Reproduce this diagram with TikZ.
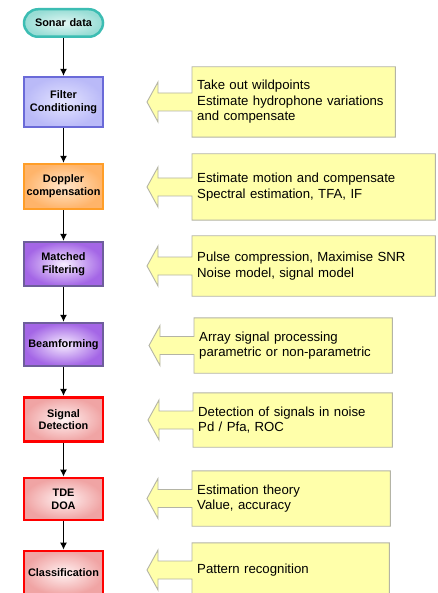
\documentclass[tikz,border=0pt]{standalone}
\usepackage{fontspec}
\setmainfont{Liberation Sans}
\usetikzlibrary{arrows.meta,calc,backgrounds}

\definecolor{tealline}{HTML}{3CBDB3}
\definecolor{tealin}{HTML}{E2F7F4}
\definecolor{tealout}{HTML}{98DDD5}
\definecolor{blueline}{HTML}{6A6AD8}
\definecolor{bluein}{HTML}{E4E4FF}
\definecolor{blueout}{HTML}{BABAF8}
\definecolor{orangeline}{HTML}{FF9E28}
\definecolor{orangein}{HTML}{FFE6CC}
\definecolor{orangeout}{HTML}{FFB46A}
\definecolor{purpleline}{HTML}{6E5E9C}
\definecolor{purplein}{HTML}{F6ECFF}
\definecolor{purpleout}{HTML}{A466E6}
\definecolor{redline}{HTML}{FF0000}
\definecolor{redin}{HTML}{FFF2F2}
\definecolor{redout}{HTML}{F0A4A4}
\definecolor{notefill}{HTML}{FFFFAA}
\definecolor{noteline}{HTML}{B4B4A6}

\tikzset{
  stepbox/.style={rectangle, minimum width=79pt, text width=78pt, align=center,
    inner sep=0pt, line width=2.2pt,
    font=\bfseries\fontsize{10.9}{12.7}\selectfont},
  tealbox/.style={stepbox, draw=tealline, line width=2.5pt, rounded corners=14pt,
    inner color=tealin, outer color=tealout},
  bluebox/.style={stepbox, draw=blueline, inner color=bluein, outer color=blueout},
  orangebox/.style={stepbox, draw=orangeline, inner color=orangein, outer color=orangeout},
  purplebox/.style={stepbox, draw=purpleline, inner color=purplein, outer color=purpleout},
  redbox/.style={stepbox, draw=redline, line width=2.6pt, inner color=redin, outer color=redout},
  note/.style={rectangle, anchor=west, align=left, inner xsep=5pt, inner ysep=0pt,
    font=\fontsize{13.2}{15.5}\selectfont},
  noteshape/.style={draw=noteline, fill=notefill, line width=0.9pt, line join=miter},
  flow/.style={-{Latex[length=7pt,width=7pt]}, line width=1.3pt, black}
}

% yellow note with a left-pointing arrow attached to its west side
\newcommand\drawcallout[1]{%
  \draw[noteshape] (#1.north west) -- (#1.north east) -- (#1.south east) -- (#1.south west)
    -- ($(#1.west)+(0,9)$) -- ++(-34,0) -- ++(0,11) -- ++(-11,-20) -- ++(11,-20)
    -- ++(0,11) -- ($(#1.west)+(0,-9)$) -- cycle;}

\begin{document}
\begin{tikzpicture}[x=1pt,y=-1pt]
\clip (0,0) rectangle (438,593);

% processing chain
\node[tealbox, minimum height=27.5pt] (s0) at (63.5,23) {Sonar data};
\node[bluebox, minimum height=50pt] (s1) at (63.5,102) {Filter\\Conditioning};
\node[orangebox, minimum height=45pt] (s2) at (63.5,186.5) {Doppler\\compensation};
\node[purplebox, minimum height=44pt] (s3) at (63.5,264) {Matched\\Filtering};
\node[purplebox, minimum height=43pt] (s4) at (63.5,344.5) {Beamforming};
\node[redbox, minimum height=44.5pt] (s5) at (63.5,419.5) {Signal\\Detection};
\node[redbox, minimum height=42pt] (s6) at (63.5,499) {TDE\\DOA};
\node[redbox, minimum height=44pt] (s7) at (63.5,573) {Classification};

\draw[flow] (s0) -- (s1);
\draw[flow] (s1) -- (s2);
\draw[flow] (s2) -- (s3);
\draw[flow] (s3) -- (s4);
\draw[flow] (s4) -- (s5);
\draw[flow] (s5) -- (s6);
\draw[flow] (s6) -- (s7);

% notes
\node[note, text width=193pt, minimum height=70pt] (n1) at (192,102)
  {Take out wildpoints\\Estimate hydrophone variations\\and compensate};
\node[note, text width=233pt, minimum height=66pt] (n2) at (192,187)
  {Estimate motion and compensate\\Spectral estimation, TFA, IF};
\node[note, text width=233pt, minimum height=60pt] (n3) at (192,266)
  {Pulse compression, Maximise SNR\\Noise model, signal model};
\node[note, text width=188pt, minimum height=55pt] (n4) at (194,345.5)
  {Array signal processing\\parametric or non-parametric};
\node[note, text width=189pt, minimum height=54pt] (n5) at (193,420)
  {Detection of signals in noise\\Pd / Pfa, ROC};
\node[note, text width=188pt, minimum height=55pt] (n6) at (192,498.5)
  {Estimation theory\\Value, accuracy};
\node[note, text width=187pt, minimum height=54pt] (n7) at (192,570)
  {Pattern recognition};

\begin{scope}[on background layer]
  \fill[white] (0,0) rectangle (438,593);
  \drawcallout{n1}
  \drawcallout{n2}
  \drawcallout{n3}
  \drawcallout{n4}
  \drawcallout{n5}
  \drawcallout{n6}
  \drawcallout{n7}
\end{scope}
\end{tikzpicture}
\end{document}
